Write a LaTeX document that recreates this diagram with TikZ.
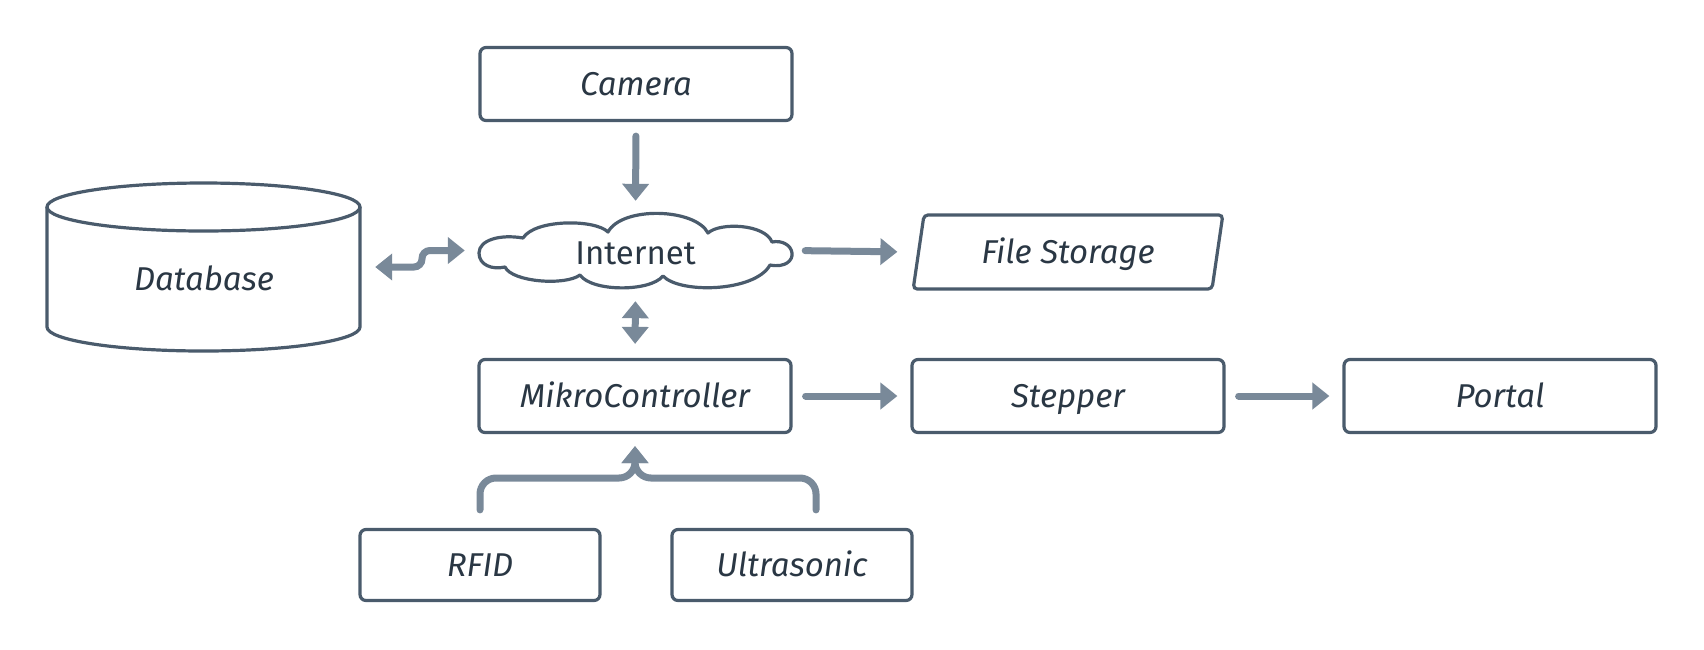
\documentclass[tikz,border=0pt]{standalone}
\usepackage{fontspec}
\setmainfont{Fira Sans}
\usetikzlibrary{arrows.meta,shapes.geometric}
\definecolor{bord}{HTML}{4A5B6C}
\definecolor{txt}{HTML}{2A3744}
\definecolor{arr}{HTML}{798999}
\begin{document}
\begin{tikzpicture}[x=1pt,y=-1pt,
  lbl/.style={text=txt, font=\fontsize{33}{40}\selectfont\itshape, inner sep=0pt, text height=22.7pt, text depth=0pt},
  box/.style={lbl, draw=bord, line width=3.2pt, rounded corners=6pt, minimum width=312pt, minimum height=73pt},
  smallbox/.style={box, minimum width=240pt, minimum height=71pt},
  outline/.style={draw=bord, line width=3.2pt},
  conn/.style={draw=arr, line width=7pt, line cap=round, -{Triangle[length=17pt,width=26pt]}},
  conn2/.style={draw=arr, line width=7pt, line cap=round, {Triangle[length=17pt,width=26pt]}-{Triangle[length=17pt,width=26pt]}}]
\useasboundingbox (0,0) rectangle (1704,649);
% nodes
\node[box] (cam) at (636,84) {Camera};
\node[box] (mc) at (635,396) {MikroController};
\node[box] (step) at (1068,396) {Stepper};
\node[box] (portal) at (1500,396) {Portal};
\node[smallbox] (rfid) at (480,565) {RFID};
\node[smallbox] (ultra) at (792,565) {Ultrasonic};
\node[lbl, outline, rounded corners=4pt, trapezium, trapezium stretches=true,
  trapezium left angle=74, trapezium right angle=106, minimum width=310pt, minimum height=74pt] (fs) at (1068,252) {File Storage};
% internet cloud
\draw[outline, line join=round] (523,238) .. controls (500,234) and (479,240) .. (479,253)
  .. controls (479,265) and (492,270) .. (505,267)
  .. controls (512,282) and (565,286) .. (580,275)
  .. controls (592,292) and (650,292) .. (663,276)
  .. controls (680,294) and (755,292) .. (770,265)
  .. controls (786,268) and (793,260) .. (792,253)
  .. controls (791,245) and (782,240) .. (772,242)
  .. controls (765,224) and (720,222) .. (708,233)
  .. controls (695,208) and (622,206) .. (608,232)
  .. controls (595,219) and (535,219) .. (523,238) -- cycle;
\node[lbl, font=\fontsize{33}{40}\selectfont, text height=28.7pt, minimum width=313pt, minimum height=75pt] (net) at (635.5,250.5) {Internet};
% database cylinder
\node[minimum width=313pt, minimum height=168pt, inner sep=0pt] (db) at (203.5,267) {};
\draw[outline, fill=white] (47,207) -- (47,327) arc[start angle=180, end angle=360, x radius=156.5pt, y radius=24pt] -- (360,207);
\draw[outline] (203.5,207) ellipse[x radius=156.5pt, y radius=24pt];
\node[lbl] (dbl) at (204,279) {Database};
% connectors
\coordinate (jog) at (422,267);
\coordinate (fork) at (635,478);
\coordinate (ub) at ([xshift=24pt]ultra.north);
\draw[conn, shorten <=14pt, shorten >=12pt] (cam.south) -- (net.north);
\draw[conn2, shorten <=13pt, shorten >=14pt] (net.south) -- (mc.north);
\draw[conn, shorten <=13pt, shorten >=13pt] (net.east) -- (fs.west -| step.west);
\draw[conn, shorten <=13pt, shorten >=13pt] (mc.east) -- (step.west);
\draw[conn, shorten <=13pt, shorten >=13pt] (step.east) -- (portal.west);
\draw[conn2, rounded corners=8pt, shorten <=15pt, shorten >=14pt] (db.east) -- (jog) |- (net.west);
\draw[conn, rounded corners=16pt, shorten <=18pt, shorten >=12pt] (rfid.north) |- (fork) -- (mc.south);
\draw[conn, rounded corners=16pt, shorten <=18pt, shorten >=12pt] (ub) |- (fork) -- (mc.south);
\end{tikzpicture}
\end{document}
